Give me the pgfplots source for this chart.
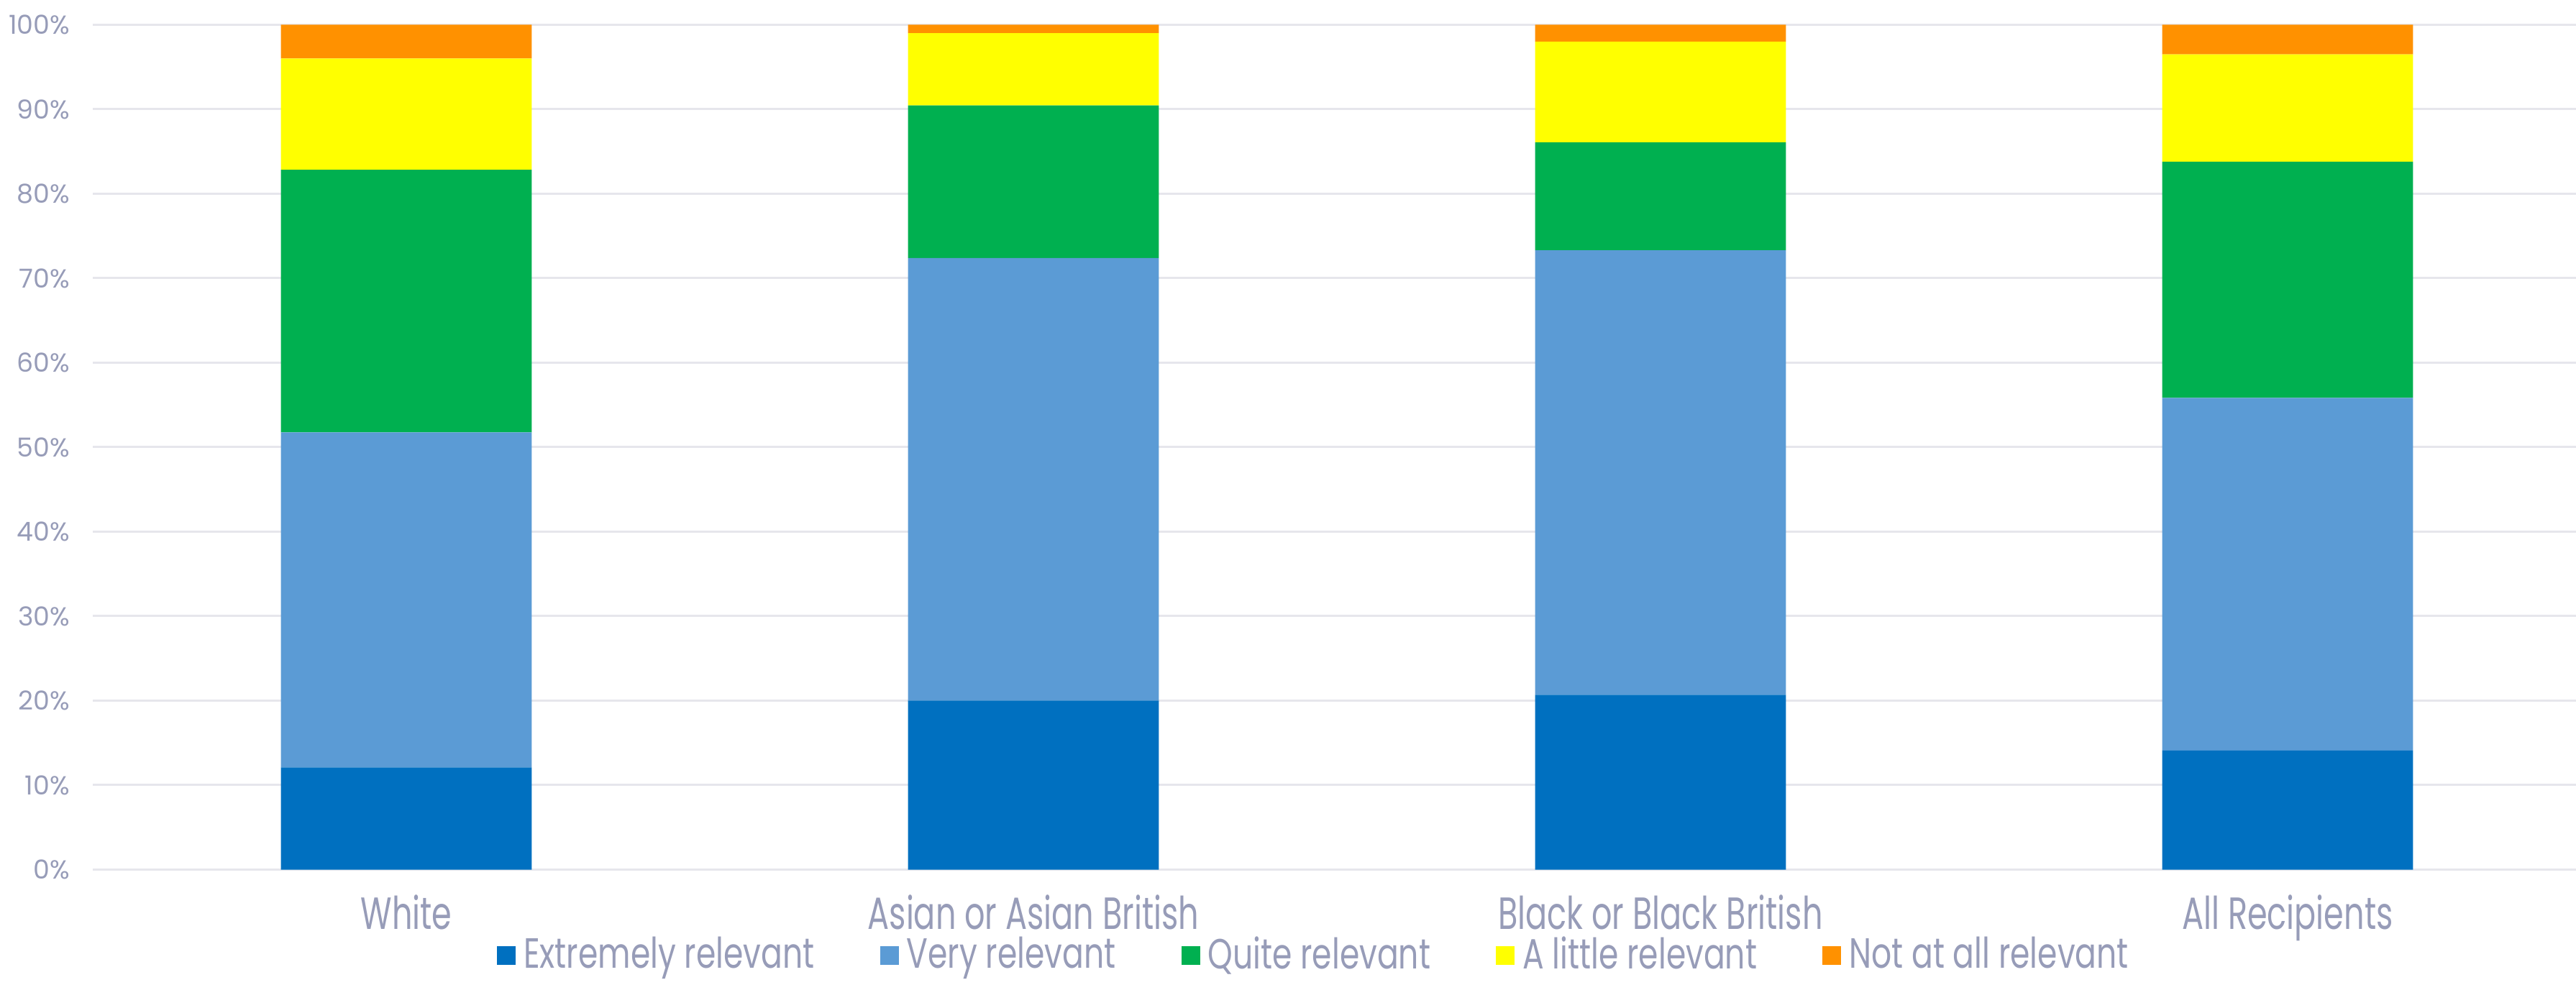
\documentclass[border=0pt]{standalone}
\usepackage{pgfplots}
\pgfplotsset{compat=1.18}
\usepackage{fontspec}
\setmainfont{Poppins}
\newfontfamily\condfont{Poppins}[FakeStretch=0.71]
\newfontfamily\legfont{Poppins}[FakeStretch=0.75]
\definecolor{cExt}{HTML}{0070C0}
\definecolor{cVery}{HTML}{5B9BD5}
\definecolor{cQuite}{HTML}{00B050}
\definecolor{cLittle}{HTML}{FFFF00}
\definecolor{cNot}{HTML}{FF9100}
\definecolor{txt}{HTML}{979CB8}
\definecolor{grd}{HTML}{E6E6EC}
\begin{document}
\begin{tikzpicture}
\path[use as bounding box] (-25.8bp,-32.1bp) rectangle (690.6bp,241.9bp);
\begin{axis}[
  name=ax,
  at={(0,0)}, anchor=south west,
  scale only axis,
  width=690.6bp, height=235bp,
  ybar stacked,
  bar width=0.4,
  xmin=-0.5, xmax=3.46,
  ymin=0, ymax=100,
  enlargelimits=false,
  axis line style={draw=none},
  major tick length=0pt,
  ymajorgrids,
  grid style={grd, line width=0.6bp},
  ytick={0,10,...,100},
  yticklabel={\pgfmathprintnumber{\tick}\%},
  /pgf/number format/assume math mode=true,
  yticklabel style={font=\fontsize{7.3}{8}\selectfont, text=txt, anchor=east, inner sep=0pt, xshift=-6.2bp},
  xtick={0,1,2,3},
  xticklabels={White, Asian or Asian British, Black or Black British, All Recipients},
  xticklabel style={font=\condfont\fontsize{12.6}{14}\selectfont, text=txt, anchor=north, inner sep=0pt, yshift=-6.9bp},
  legend columns=5,
  legend style={draw=none, fill=none, at={(0.4929,-0.1015)}, anchor=center,
    font=\legfont\fontsize{11.8}{13}\selectfont, text=txt,
    /tikz/every even column/.append style={column sep=16bp},
    nodes={inner sep=2.2bp}},
  legend image code/.code={\fill[#1] (0bp,-2.6bp) rectangle (5.2bp,2.6bp);},
  every axis plot/.append style={draw=none},
]
\addplot+[fill=cExt] coordinates {(0,12.1) (1,20.0) (2,20.7) (3,14.1)};
\addplot+[fill=cVery] coordinates {(0,39.65) (1,52.4) (2,52.6) (3,41.75)};
\addplot+[fill=cQuite] coordinates {(0,31.1) (1,18.05) (2,12.8) (3,27.95)};
\addplot+[fill=cLittle] coordinates {(0,13.15) (1,8.55) (2,11.9) (3,12.7)};
\addplot+[fill=cNot] coordinates {(0,4.0) (1,1.0) (2,2.0) (3,3.5)};
\legend{Extremely relevant, Very relevant, Quite relevant, A little relevant, Not at all relevant}
\end{axis}
\end{tikzpicture}
\end{document}
